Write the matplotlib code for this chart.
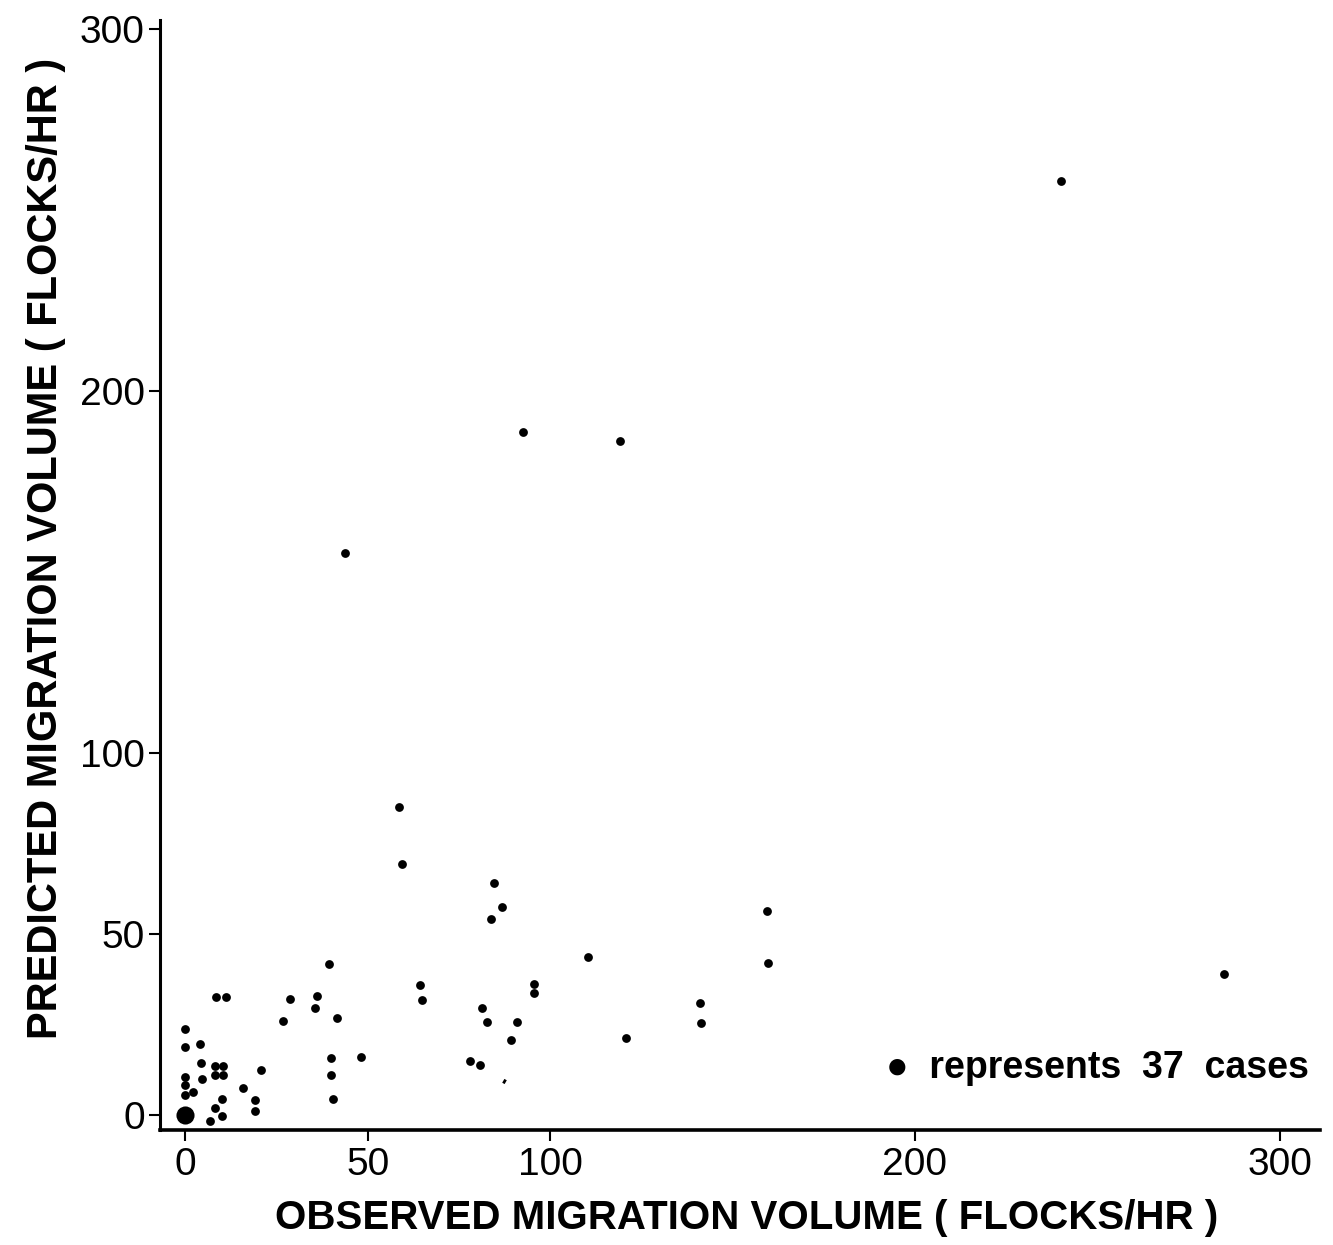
import matplotlib.pyplot as plt

# -----------------------------
# Data
# -----------------------------
observed = [
    240.0, 92.6, 119.2, 43.8, 58.6, 59.5, 84.7, 86.8, 83.8, 110.3,
    95.6, 95.6, 81.2, 82.8, 91.0, 89.2, 120.7, 78.0, 80.7, 159.5,
    159.8, 141.0, 141.4, 284.9, 39.3, 8.4, 11.2, 28.7, 36.1, 35.4,
    41.5, 26.8, 64.2, 64.8, 0.0, 0.0, 4.0, 4.3, 4.5, 8.0,
    10.3, 8.0, 10.3, 20.6, 40.0, 48.1, 40.0, 40.4, 15.9, 19.0,
    19.0, 0.0, 0.0, 0.0, 2.0, 10.1, 8.0, 10.1, 6.8,
]
predicted = [
    258.0, 188.7, 186.2, 155.2, 85.0, 69.3, 64.2, 57.5, 54.1, 43.7,
    36.2, 33.8, 29.6, 25.7, 25.7, 20.7, 21.2, 15.0, 14.0, 56.5,
    42.1, 30.9, 25.4, 39.0, 41.7, 32.7, 32.7, 32.2, 32.9, 29.6,
    26.9, 26.0, 36.1, 31.8, 23.8, 18.9, 19.6, 14.4, 10.0, 13.6,
    13.6, 11.2, 11.2, 12.4, 15.9, 16.1, 11.2, 4.4, 7.5, 4.1,
    1.2, 10.6, 8.3, 5.5, 6.4, 4.6, 1.9, -0.3, -1.7,
]

# big symbol at the origin stands for 37 cases
big_x = [0.0]
big_y = [0.0]

# faint single speck in the scan
speck_x = [87.4]
speck_y = [9.5]

xticks = [0, 50, 100, 200, 300]
yticks = [0, 50, 100, 200, 300]

# -----------------------------
# Plot
# -----------------------------
plt.rcParams["font.family"] = ["Liberation Sans", "DejaVu Sans"]

fig = plt.figure(figsize=(13.33, 12.45), dpi=100)
ax = fig.add_axes([0.120, 0.092, 0.870, 0.892])

ax.scatter(observed, predicted, s=40, color="black", linewidths=0)
ax.scatter(big_x, big_y, s=170, color="black", linewidths=0)
ax.scatter(speck_x, speck_y, s=10, marker=(2, 0, -30), color="black",
           linewidths=2)

ax.set_xlim(-7, 311)
ax.set_ylim(-4.2, 302.5)

ax.spines["top"].set_visible(False)
ax.spines["right"].set_visible(False)
ax.spines["left"].set_linewidth(2.2)
ax.spines["bottom"].set_linewidth(2.6)

ax.set_xticks(xticks)
ax.set_yticks(yticks)
ax.tick_params(axis="both", direction="out", length=8, width=1.5,
               labelsize=28, color="black")
ax.tick_params(axis="x", pad=4)
ax.tick_params(axis="y", pad=3)

ax.set_xlabel("OBSERVED MIGRATION VOLUME ( FLOCKS/HR )",
              fontsize=29, fontweight="bold")
ax.set_ylabel("PREDICTED MIGRATION VOLUME ( FLOCKS/HR )",
              fontsize=30, fontweight="bold")
ax.xaxis.set_label_coords(0.506, -0.062)
ax.yaxis.set_label_coords(-0.081, 0.524)

ax.text(0.991, 0.056, "\u25CF  represents  37  cases", transform=ax.transAxes,
        ha="right", va="center", fontsize=27, fontweight="bold")

fig.savefig("out.png", dpi=100, facecolor="white")
